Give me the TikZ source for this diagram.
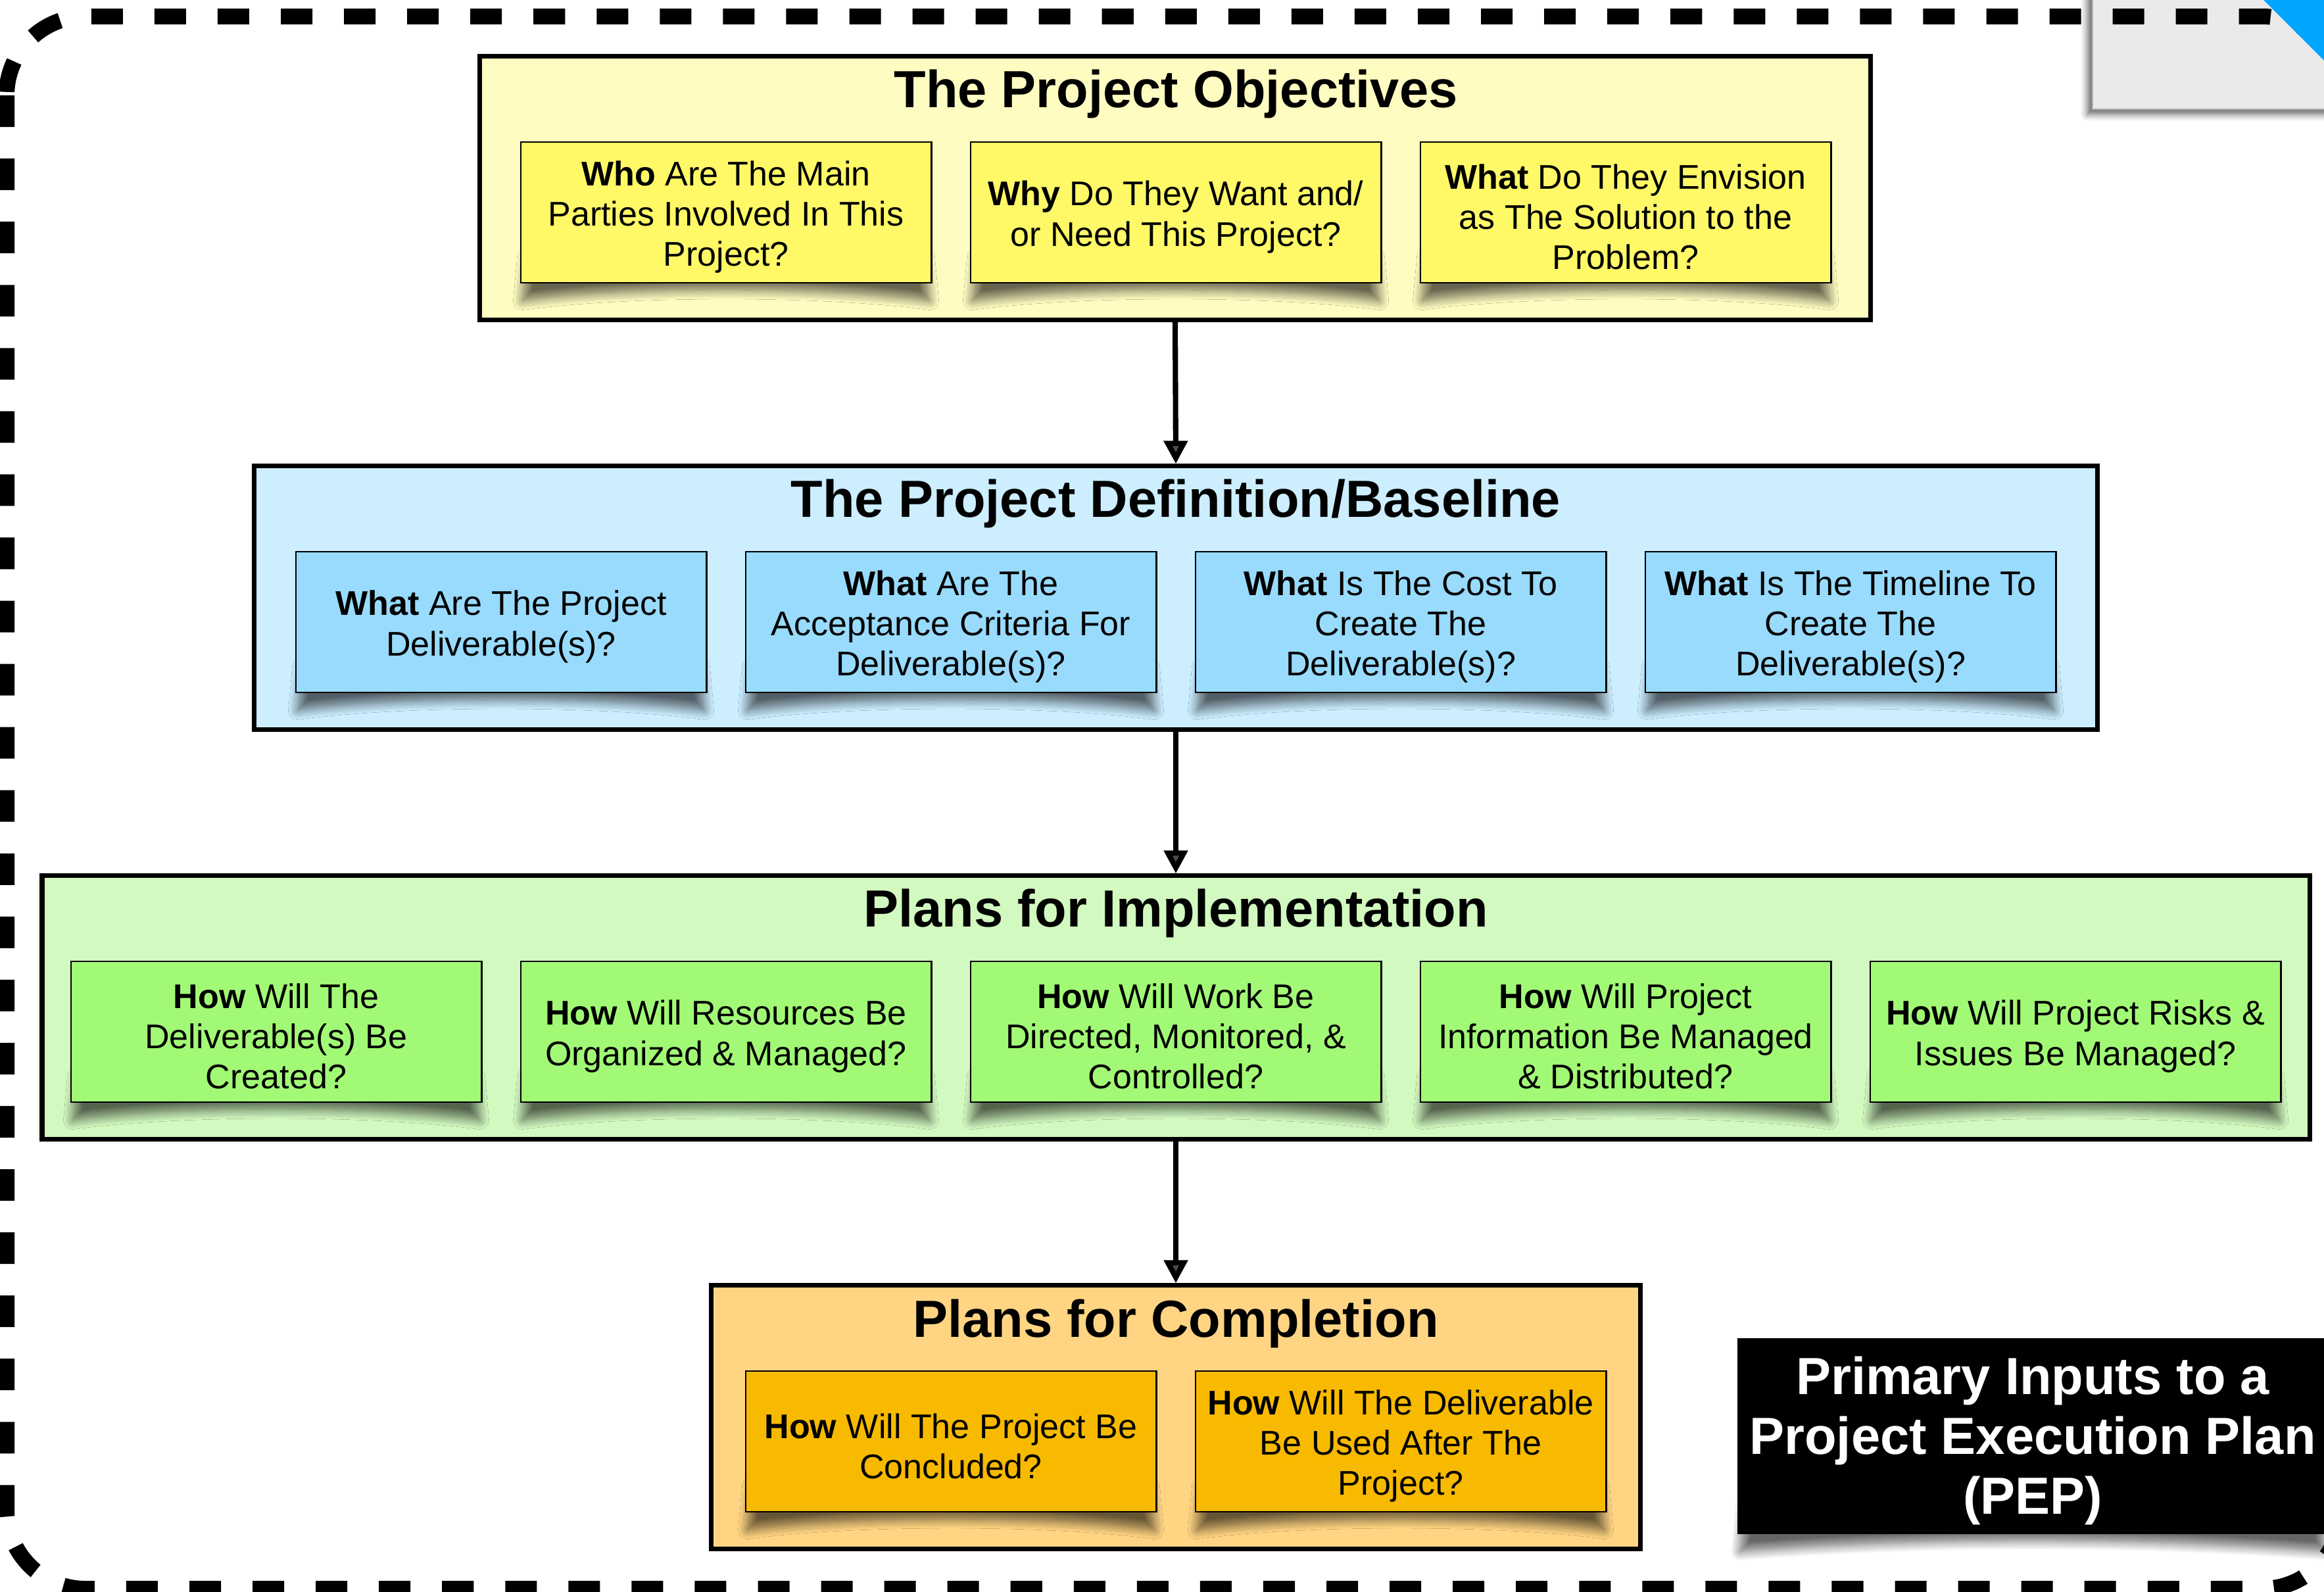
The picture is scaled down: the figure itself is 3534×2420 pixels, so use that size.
\documentclass[tikz,border=0pt]{standalone}
\usepackage{fontspec}
\setmainfont{Liberation Sans}
\usetikzlibrary{shadows.blur, arrows.meta, calc}

\definecolor{objFrame}{HTML}{FFFCC2}
\definecolor{objBox}{HTML}{FFF967}
\definecolor{defFrame}{HTML}{CCEEFF}
\definecolor{defBox}{HTML}{98DBFD}
\definecolor{impFrame}{HTML}{D2F9C0}
\definecolor{impBox}{HTML}{A2F976}
\definecolor{comFrame}{HTML}{FFD583}
\definecolor{comBox}{HTML}{F7BA00}
\definecolor{cornerGrey}{HTML}{EAEAEA}
\definecolor{ribbonBlue}{HTML}{00A6FF}

\newcommand\qfont{\fontsize{14.8}{17.4}\selectfont}
\newcommand\tfont{\fontsize{22.6}{26}\selectfont\bfseries}
\newcommand\pepfont{\fontsize{22.6}{25.9}\selectfont\bfseries}

% soft, curled shadow under the bottom edge of a box
\newcommand\curlshadow[1]{%
  \path[curl] ($(#1.south west)+(10,-40)$) -- ($(#1.south east)+(-10,-40)$)
    -- ($(#1.south east)+(-4,26)$)
    .. controls ($(#1.south)+(150,4)$) and ($(#1.south)+(-150,4)$) .. ($(#1.south west)+(4,26)$) -- cycle;}

% question box: shadow, box, text  {name}{centre}{fill}{text}
\newcommand\qnode[4]{%
  \node[qbox, draw=none] (#1s) at (#2) {}; \curlshadow{#1s}
  \node[qbox, fill=#3] (#1) at (#2) {};
  \node[qtext] (#1t) at ($(#2)+(0,7)$) {#4};}

\tikzset{
  frame/.style={draw=black, line width=2pt, minimum height=4cm, inner sep=0pt},
  title/.style={anchor=base, font=\tfont, inner sep=0pt},
  qbox/.style={draw=black, line width=0.75pt, minimum width=6.24cm, minimum height=2.14cm, inner sep=0pt},
  qtext/.style={align=center, font=\qfont, inner sep=0pt},
  curl/.style={blur shadow={shadow xshift=0pt, shadow yshift=0pt, shadow blur radius=0.14cm,
    shadow opacity=60, shadow blur steps=14}},
  flow/.style={line width=2.3pt, -{Triangle[length=0.35cm, width=0.35cm]}},
  pep/.style={fill=black, inner sep=0pt, minimum width=8.97cm, minimum height=2.97cm},
  peptext/.style={text=white, font=\pepfont, align=center, inner sep=0pt},
  border/.style={line width=0.24cm, dash pattern=on 0.48cm off 0.48cm, rounded corners=1.2cm},
}

\begin{document}
\begin{tikzpicture}[x=0.01cm, y=-0.01cm]
\useasboundingbox (0,0) rectangle (3534,2420);
\clip (0,0) rectangle (3534,2420);

% grey corner tab at the top right
\path[fill=cornerGrey, draw=black!30, line width=0.4pt,
  blur shadow={shadow xshift=-0.08cm, shadow yshift=-0.08cm, shadow blur radius=0.1cm, shadow opacity=60}]
  (3182,-80) rectangle (3700,166);

% dashed outline around the whole chart
\draw[border] (10,25) rectangle (3560,2416);

% blue corner ribbon
\fill[ribbonBlue] (3430,-12) -- (3600,158) -- (3600,-12) -- cycle;

% ---------- frames ----------
\node[frame, fill=objFrame, minimum width=21.14cm] (obj) at (1787,286) {};
\node[frame, fill=defFrame, minimum width=28.01cm] (def) at (1788,909) {};
\node[frame, fill=impFrame, minimum width=34.46cm] (imp) at (1788,1532) {};
\node[frame, fill=comFrame, minimum width=14.13cm] (com) at (1788,2155) {};

\node[title] (objT) at (1788,163) {The Project Objectives};
\node[title] (defT) at (1788,786) {The Project Definition/Baseline};
\node[title] (impT) at (1788,1409) {Plans for Implementation};
\node[title] (comT) at (1788,2033) {Plans for Completion};

% ---------- objectives ----------
\qnode{ob1}{1104,323}{objBox}{\textbf{Who} Are The Main\\Parties Involved In This\\Project?}
\qnode{ob2}{1788,323}{objBox}{\textbf{Why} Do They Want and/\\or Need This Project?}
\qnode{ob3}{2472,323}{objBox}{\textbf{What} Do They Envision\\as The Solution to the\\Problem?}

% ---------- definition ----------
\qnode{db1}{762,946}{defBox}{\textbf{What} Are The Project\\Deliverable(s)?}
\qnode{db2}{1446,946}{defBox}{\textbf{What} Are The\\Acceptance Criteria For\\Deliverable(s)?}
\qnode{db3}{2130,946}{defBox}{\textbf{What} Is The Cost To\\Create The\\Deliverable(s)?}
\qnode{db4}{2814,946}{defBox}{\textbf{What} Is The Timeline To\\Create The\\Deliverable(s)?}

% ---------- implementation ----------
\qnode{ib1}{420,1569}{impBox}{\textbf{How} Will The\\Deliverable(s) Be\\Created?}
\qnode{ib2}{1104,1569}{impBox}{\textbf{How} Will Resources Be\\Organized \& Managed?}
\qnode{ib3}{1788,1569}{impBox}{\textbf{How} Will Work Be\\Directed, Monitored, \&\\Controlled?}
\qnode{ib4}{2472,1569}{impBox}{\textbf{How} Will Project\\Information Be Managed\\\& Distributed?}
\qnode{ib5}{3156,1569}{impBox}{\textbf{How} Will Project Risks \&\\Issues Be Managed?}

% ---------- completion ----------
\qnode{cb1}{1446,2192}{comBox}{\textbf{How} Will The Project Be\\Concluded?}
\qnode{cb2}{2130,2192}{comBox}{\textbf{How} Will The Deliverable\\Be Used After The\\Project?}

% ---------- flow between the stages ----------
\draw[flow] (obj.south) -- (def.north);
\draw[flow] (def.south) -- (imp.north);
\draw[flow] (imp.south) -- (com.north);

% ---------- caption box ----------
\node[pep, fill=none] (pepS) at (3091,2184) {}; \curlshadow{pepS}
\node[pep] (pepBox) at (3091,2184) {};
\node[peptext] (pepText) at (3091,2191) {Primary Inputs to a\\Project Execution Plan\\(PEP)};
\end{tikzpicture}
\end{document}
